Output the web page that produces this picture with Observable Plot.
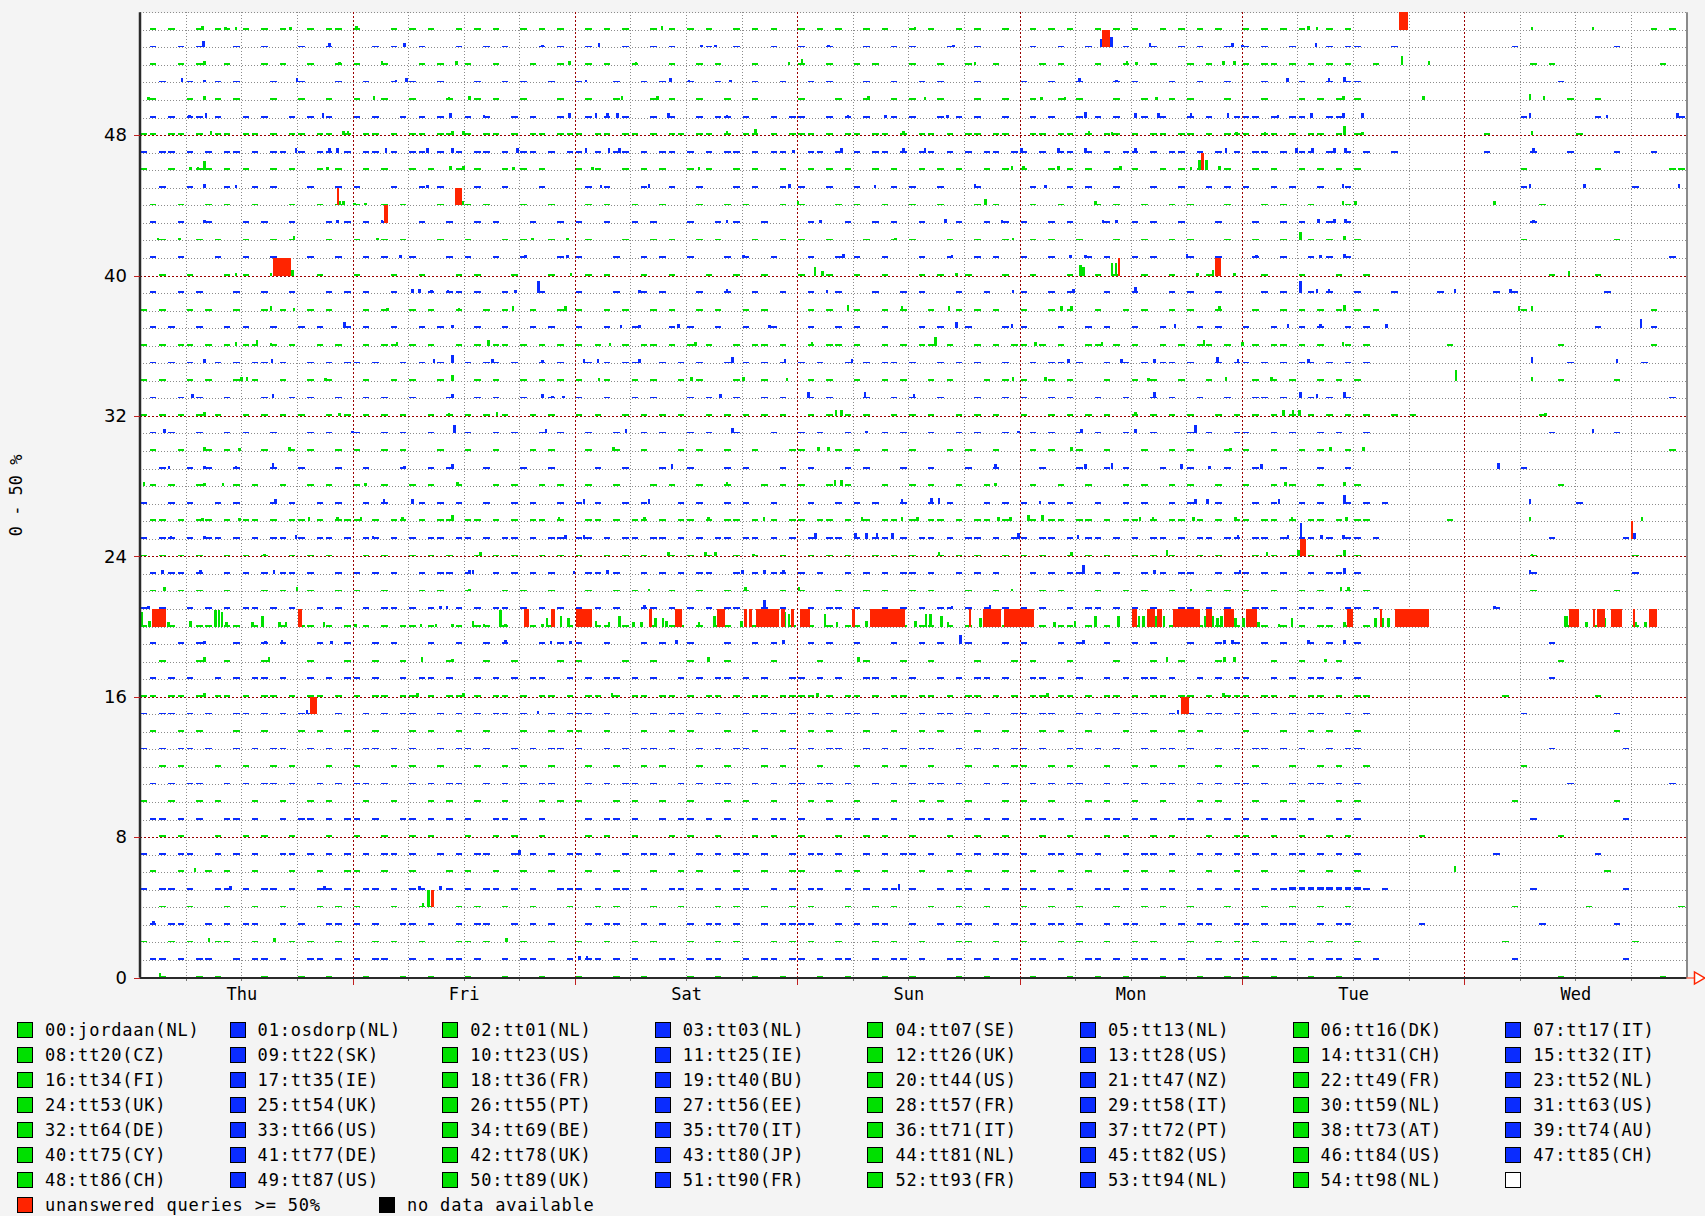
<!DOCTYPE html>
<html><head><meta charset="utf-8">
<script src="https://cdn.jsdelivr.net/npm/d3@7"></script>
<script src="https://cdn.jsdelivr.net/npm/@observablehq/plot@0.6"></script>
<style>
html,body{margin:0;padding:0;background:#f4f4f4;}
#wrap{position:relative;width:1705px;height:1216px;overflow:hidden;}
#chart{position:absolute;left:0;top:0;}
#legend{position:absolute;left:0;top:0;width:1705px;height:1216px;pointer-events:none;font-family:"DejaVu Sans Mono",monospace;font-size:17px;letter-spacing:0.8px;color:#000;}
.sw{position:absolute;width:14px;height:14px;border:1px solid #000;box-sizing:content-box;}
.lb{position:absolute;white-space:nowrap;line-height:18px;}
</style></head><body>
<div id="wrap"><div id="chart"></div><div id="legend"></div></div>
<script>
// ---- categories (lanes, bottom to top) ----
const names = ["jordaan(NL)","osdorp(NL)","tt01(NL)","tt03(NL)","tt07(SE)","tt13(NL)","tt16(DK)","tt17(IT)","tt20(CZ)","tt22(SK)","tt23(US)","tt25(IE)","tt26(UK)","tt28(US)","tt31(CH)","tt32(IT)","tt34(FI)","tt35(IE)","tt36(FR)","tt40(BU)","tt44(US)","tt47(NZ)","tt49(FR)","tt52(NL)","tt53(UK)","tt54(UK)","tt55(PT)","tt56(EE)","tt57(FR)","tt58(IT)","tt59(NL)","tt63(US)","tt64(DE)","tt66(US)","tt69(BE)","tt70(IT)","tt71(IT)","tt72(PT)","tt73(AT)","tt74(AU)","tt75(CY)","tt77(DE)","tt78(UK)","tt80(JP)","tt81(NL)","tt82(US)","tt84(US)","tt85(CH)","tt86(CH)","tt87(US)","tt89(UK)","tt90(FR)","tt93(FR)","tt94(NL)","tt98(NL)"];
const dayNames = ["Thu","Fri","Sat","Sun","Mon","Tue","Wed"];
const yTicks = [0,8,16,24,32,40,48];

// ---- low-level unanswered fraction per hour, per lane (hours 1..167; Thu(23) Fri..Wed(24 each))
// '.' = 0, '1' = ~5 %, '2' = ~8 %
const dashes = [
"..1...1.1....1...1..1.. .1...1..1...1...1...1.. 1...1..1....1..1...1..1 ..1..1...1..1....1..1.. .1...1..1..1...1...1..1 1..1...1..1............ ..........1..........1..",
".11.1.11..1.11.1..11.1. 1.11..1.1.11.1..1.11.1.1 .11.1.1..11.1.11..1.11.1 1.1.11..1.11.1..11.1.1.1 .11.1..11.1.11.1.1..11.1 1.11.1.1.11.1.1........ .....1...........1......",
"1..1.1..11..1...1.1..1. ..1.1..1...11.1...1..1.. 1..1..1.1...1..1.1...1.1 .1..1...1.1..1...11..1.. 1...1.1..1..1.1...1..1.1 .1..1..1.1..1.......... ....1.............1.....",
".1.11..1.1.11..1.1..11. 1.1..11.1..1.11..1.1.1.. .1.11..1.1..1.11.1..1.11 11..1.1.11..1..1.11..1.1 .1.11.1..1.11..1.1.11..1 1.1.11..1.11.......1.... ........1.......1.......",
"..1..1...1..1..1...1.1. 1...1..11..1.1..1..1...1 ..1.1...1..1...1.1..1..1 .1...1..1.1...1..1..1... 1..1..1...1..1.1..1...1. ..1..1..1..1........... .....1.......1.........1",
"1.11.1..11.1.11.1..11.1 .11.1.11..1.1.11.1.1..11 1.1.11.1..11.1.1.11..1.1 .11..1.1.11.1..1.11.1.1. 11.1.1..11.1.1.11..1.1.1 .1.11222222221.1....... .......1.........1......",
".1..1..1.1..1...1..1..1 1..1..1...1.1..1..1..1.. .1..1...1..1.1...1..1..1 1...1.1..1...1..1.1...1. .1..1..1...1.1..1...1..1 ..1...1..1..1.......... ...............1........",
"1.1.11..1.1.1..11.1.1.1 .1.11.1..1.1.11..1.1.1.1 1.1..1.11.1..1.1.11.1..1 .11.1..1.1.11.1..1.1.11. 1..11.1.1..1.11.1..1.1.1 .1.1.11.1.1.1.......... ...1..........1.........",
"..1.1...1..1.1..1...1.. 1..1..1.1...1..1.1..1... .1.1..1...1.1..1...1.1.. 1...1..1.1..1...1..1..1. ..1..1...1.1..1.1...1..1 1..1..1..1.1.......1.... ..........1.............",
".11.1.1..11.1..1.11.1.1 1.1..11.1.1.1..11.1.1.. .1.11.1..1.11.1.1..1.11 1..1.11.1.1..11.1.1.1.1 .11.1..1.11.1.1..11.1.1 1.1.11.1..1.1.......... .......1.........1......",
"1..1..1.1...1..1..1.1.. .1..1...1.1..1..1...1.1 1...1.1..1..1...1.1..1.. .1.1..1...1..1.1..1...1 1..1...1.1..1..1...1.1.. .1..1.1...1.1.......... .....1..........1.......",
".1.1.11..1.1.11.1..1.1. 11.1..1.1.11..1.1.1.11. .1.1.11.1..1.1.11..1.1.1 1.11.1..1.1.1.11.1..1.1. .1.1.11..1.1.1.11..1.1.1 1.1..1.11.1.1.......... ...........1..........1.",
"..1.1...1..1..1.1...1.. 1...1.1..1...1..1.1..1.. .1..1..1.1...1..1...1.1. ..1...1..1.1..1...1..1.1 1..1.1...1..1.1..1...1.. .1...1..1.1..1......... ......1.................",
"1.1.11.1..1.1.11..1.1.1 .11.1.1..1.11.1..1.1.11. 1..1.1.11.1..1.1.11.1..1 .1.11..1.1.1.11..1.1.1.1 1.1..11.1.1..1.11.1..1.1 .11.1.1..1.11.......... .........1.......1......",
".1..1.1...1..1...1.1..1 ..1...1.1..1..1...1..1.1 1..1...1..1.1...1..1..1. .1.1...1..1..1.1...1..1 ..1.1..1...1..1..1.1... 1...1..1.1..1.......... ................1.......",
"1.11.1.1..11.1.1.11..1. .1.1.11..1.1.1.11.1..1.1 11.1..1.1.11.1.1..1.11.1 .1.1.11.1..1.1.11.1.1..1 1.11..1.1.1.11..1.1.11.1 .1.1.1.11..1.1......... ......1.........1.......",
"11.11.1.11.1.11.1.11.1. 1.11.11.1.11.1.11.1.11.1 .11.1.11.11.1.11.1.11.11 11.1.11.1.11.11.1.11.1.1 .11.11.1.11.1.11.11.1.11 1.11.1.11.1.11......... ....1.........1.........",
".1.1.1..1.1.11.1..1.1.1 1.1..1.11.1..1.1.1.11..1 .1.11.1.1..1.1.11.1.1..1 1.1.1..11.1.1..1.1.11.1. .11.1.1..1.1.11.1..1.1.1 1..1.1.11.1.1.......... .........1..............",
"..1...1..1...1....1...1 ..1..1....1...1..1....1. 1....1..1...1...1....1.. ..1....1...1..1....1...1 .1...1....1...1..1...1.. ...1..1...1............ ..........1.............",
".1..1.1...1..1.1...1..1 ..1.1...1..1..1.1...1.1. 1..1...1.1..1...1..1.1.. .1.1..1...1..1.1..1...1. 1...1.1..1..1.1...1..1.1 ..1.1..1.1..1.......... .........1..............",
"1.11..11.11.1..1.11.1.1 .1.1.11.1..1.11.1..1.1.1 1.11.1..1.11.1.11..1.1.1 .1.1.11..1.1.11.1.1..11. 1.1.11.1.1..1.1.11.1.1.1 .11.1.1.11.1.1....1..... ...........1..1.1.1.....",
"1.1..1.1.1.11.1.1..1.1. .1.11.1.1..1.1.11.1.1.1. 1.1.1..11.1.1.1.11..1.1. .1.11.1..1.1.1.11.1.1.1. 1.1..1.11.1.1.1..11.1.1. .11.1.11.1.11.1........ ...1....................",
".1..1.1..1...1.1..1..1. 1..1...1.1..1...1.1..1.. .1..1.1...1..1..1.1...1. 1...1..1.1..1.1...1..1.. ..1.1...1..1.1..1...1.1. 1..1..1.1..1.1......... .......1........1.......",
".1.11.1..1.1.1.11.1..1. 1.1.1..1.11.1..1.1.1.1.. .11.1..1.1.1.11..1.1.11. 1.1..1.1.1.11.1..1.1.1.. .1.1.11.1.1..1.1.11..1.1 1.1.1..1.11.1.......... .......1..........1.....",
"1.1.1.1..1.1.1..1.1.1.. .1.1..1.1.1..1.1.1..1.1 1..1.1.1..1.1.1..1.1..1. .1.1.1..1.1.1..1.1.1..1 1.1..1.1.1..1.1.1..1.1.. .1.1.1.1..1.1.......... .......1..........1.....",
"1.11.1.11.1.1.11.1.11.1 .11.1.1.11.11.1.11.1.11. 11.1.11.11.1.1.11.11.1.1 .1.11.1.11.1.11.1.11.1.1 1.11.1.11.1.1.11.1.11.11 .11.1.11.1.11.1........ .........1.......1......",
".11.1.11.1.11.1.11.1.11 1.1.11.1.11.11.1.1.11.1. .11.1.11.1.11.1.11.1.1.1 1.11.1.1.11.1.11.1.11.1. .1.11.11.1.11.1.11.1.1.1 1.11.1.11.1.11........1. ........................",
"1..1.1..1.1...1.1..1.1. .1.1...1.1.1..1..1.1..1 1.1..1.1...1.1..1.1..1.. .1..1.1.1..1..1.1...1.1 1..1.1..1..1.1..1.1..1.. .1.1..1.1..1.1.1....... ............1...........",
".1.1..1...1.1..1..1.1.. 1..1..1.1..1...1.1..1.1 .1..1...1.1..1..1...1.1 1..1.1...1..1.1..1..1.. .1..1..1...1.1..1.1..1. 1..1.1..1...1.......... ..........1.............",
"..1..1.1..1...1..1...1. .1...1..1.1...1...1..1. ..1..1...1..1...1.1...1 .1...1.1...1..1...1..1. ..1...1..1.1...1..1...1 .1..1...1..1........... ......1.................",
".1..1..1.1...1..1.1..1. 1..1.1...1..1..1...1.1. .1..1..1...1.1..1..1...1 1...1.1..1..1...1.1..1.. .1.1..1..1...1..1.1...1. 1..1..1.1..1........... ......................1.",
".1.1..1..1.1..1...1.1.. 1..1.1..1...1..1.1..1.1 .1..1..1.1..1.1..1...1.. 1.1..1...1.1..1..1.1..1. .1.1..1.1..1..1...1.1..1 1..1.1..1.1..1......... .........1......1.......",
"1.1.1.1.1..1.1.1.1..1.1 .1.1.1..1.1.1.1.1..1.1. 1.1..1.1.1.1..1.1.1.1.1. .1.1.1.1..1.1.1..1.1.1. 1..1.1.1.1..1.1.1.1..1.1 .1.1.1.1.1.1.1..1.1..... ........1...............",
".1..1.1..1...1..1.1..1. .1.1..1...1..1.1..1..1. 1..1..1.1...1.1..1..1.1 .1.1...1..1.1..1...1..1 1..1.1..1..1..1.1..1..1 .11.1..1.1.1........... ......................1.",
"1.1..1.1..1.1..1..1.1.. .1..1.1..1...1.1..1.1.1 1..1..1.1..1.1...1..1.. .1.1..1..1.1..1.1...1.1 1..1.1...1..1.1..1..1.. .1.1.1..1.1.1.......... ..........1.....1.......",
".1.1.1..1.1.11.1..1.1.1 1.1..1.1.1..1.11.1..1.1. .1.1.11..1.1.1..1.1.1.1 1.1..1.1.11.1..1.1.1..1. .1.11.1..1.1.1.11.1..1.1 1.1.1.11.1.1.1......... ...........1.......1....",
"1.1.11.1.1.11.1.1..1.1. .1.11.1.1..1.1.11.1.1.1 1.1..1.11.1.1.1..1.11.1 .1.11.1..1.1.11.1..1.1.1 1.1.1..11.1.1..1.1.11.1. .1.11.1.1..1.1........1 ..........1.........1...",
".1.1..1..1.1..1..1.1..1 .1..1..1.1...1..1..1.1. 1..1..1...1.1..1..1..1.. .1..1.1..1...1.1..1...1 1...1..1.1..1..1...1.1.. 1..1..1.1..1.1......... ..............1.....1...",
"1.1..1.1..1..1.1..1.1.. .1.1..1.1..1..1.1..1..1 1..1.1..1.1..1.1..1.1.. .1.1..1..1.1..1..1.1.1. 1..1.1..1..1.1..1.1..1. .1..1.1.1.1.1.1........ ......1.............1...",
".1..1.1...1..1..1...1.1 .1..1...1.11.1..1...1.. 1...1..1.1...1..1..1..1 .1..1...1..1.1...1..1.. 1..1.1...1..1...1.1..1. ..1.1..1.1..1...1....1. ...1.1.........1.......",
"..1..1...1.1.......1... 1...1..1...1.1...1...1. .1.1...1..1...1..1..1.. 1..1..1..1...1.1..1...1 .1...1..1.1..1..1...1.. ..1...1...1..1......... .........1....1.........",
".1..1...1..1..1...1..1. .1.1..1...1.1..1..1...1 1...1..1.1..1...1.1..1. .1..1.1..1...1..1..1.1. 1..1...1.1..1.1...1..1. .1..1..1.1.1........... ......................1.",
"..1...1.1..1..1.1...1.. 1..1.1...1..1...1.1..1. .1...1..1.1..1.1...1..1 1..1...1..1.1...1..1..1 .1.1..1...1..1..1.1...1 .1..1..1.1..1.......... ......1.........1.......",
".1..1..1...1.1..1...1.1 .1.1...1..1..1.1...1..1 1..1..1.1...1..1.1..1.. .1...1..1.1..1...1..1.1 1..1.1...1..1.1..1...1. .1..1.1..1.1........... .......1................",
".1..1..1.1..1...1..1.1. 1..1.1...1..1.1...1..1. .1.1..1..1...1..1.1...1 1...1.1..1..1..1...1.1. .1..1...1.1..1..1.1...1 ..1.1..1...1........... ........1...............",
"..1..1...1..1.1...1..1. 1...1..1.1...1..1...1.. .1.1...1..1..1...1.1..1 1..1..1...1.1..1...1... .1...1.1..1...1..1..1.1 1..1.1..1..1........... ......1...........1.....",
"1..1..11.1.1..1.1..1.1. .1.1..1.1..1.1..1.1.1.. 1.1..1.1.1..1.1..1.1..1 .1.1.1..1.1..1.1.1..1.1 1..1.1.1..1.1..1.1.1..1 .1.1..1.1.1.1.......... ......1.......1.......11",
"1.11.1.1.11.1.11.1.11.1 .11.1.11.1.1.11.1.11.1.1 1.1.11.1.11.1.1.11.1.11. .11.1.1.11.1.11.1.1.11.1 1.1.11.1.1.11.1.11.1.1.1 .11.1.11.1.1.1..1...... ..1....1...1....1...1...",
"11.11.1.11.11.1.11.11.1 .11.1.11.11.1.11.1.11.11 1.11.11.1.11.11.1.11.1.1 11.1.11.11.1.11.1.11.11. .11.11.1.11.1.11.11.1.11 1.11.1.11.1.1........... ..1.........1...........",
".1.1.11.1..1.1..1.1.1.. 1.1..1.1.1..1.1..1.1..1. .1.1.1..1.1..1.11.1..1.1 1..1.1.1..1.1..1.1.1..1. .1.1..1.1.1..1.1..1.1..1 11.1.11..11............ ......1.......1........1",
".1...1..1.1...1..1..1.. 1..1..1...1..1.1..1...1 .1..1...1.1..1..1..1... 1...1..1..1.1..1...1..1 .1..1.1...1..1..1.1...1 ..1...1.1.1.1.......... ...........1..1.........",
"..1..1..1.1...1..1...1. .1..1.1..1...1..1.1..1. 1...1..1.1..1..1...1..1 .1.1...1..1..1.1...1... 1..1..1...1.1...1..1..1 ..1...1..1.11.......... ..........1.............",
".1..1.1..1...1.1..1..1. 1..1...1.1..1..1...1..1 .1.1..1...1..1.1...1... 1..1..1.1...1..1..1..1. ..1.1...1..1..1...1.1.. 1.11.1.1.1.1..1........ .......1.1...........1..",
".1..1.1...1..1...1..1.. ..1.1..1...1..1.1...1.1 .1...1..1.1...1..1...1. 1..1...1..1.1...1..1... .1..1..1...1..1..1.1..1 1.1..1...1.11...1...... .....1..........1.......",
".1.1..1.11.1.1.1..1.11. 1...1.1.1..1.1.1..1.1.1 .1.1.1..1.1.1.1..1.1.1. 1.1.1..1.1..1.1..1.1..1 .1.1.1..1.1.1..1.1.1.1. 1.1.1.1..1.1........... ....................1.1."
];

// ---- taller readings: [lane, hour, % unanswered (lane = 0..50 %)]
const spikes = [
[54,7.8,12],[54,10.3,8],[54,11.4,8],[54,17.3,8],[54,24.4,12],[54,57.4,12],[54,84.7,8],[54,127.2,12],[54,128.1,8],[54,151.3,8],[54,157.9,8],
[53,7.9,17],[53,21.5,12],[53,29.6,12],[53,44.5,8],[53,50.6,12],[53,61.7,8],[53,63.2,8],[53,75.4,8],[53,88.9,8],[53,104.8,25],[53,105.9,30],[53,110.1,12],[53,119,12],[53,120.1,8],[53,128,12],
[52,8,12],[52,22.6,8],[52,27.2,12],[52,35.2,12],[52,47.4,12],[52,54.6,8],[52,71.1,8],[52,72.5,17],[52,91.2,8],[52,107.6,12],[52,108.6,8],[52,118,12],[52,119.2,12],[52,137.3,25],[52,140.2,12],
[51,5.6,12],[51,8,8],[51,18,12],[51,28.7,8],[51,29.8,12],[51,49.2,8],[51,58.3,12],[51,60.3,8],[51,64.8,8],[51,102.5,12],[51,106.5,8],[51,124.9,12],[51,129.4,12],[51,131.1,17],
[50,2,8],[50,8,12],[50,26.3,12],[50,34.4,8],[50,36.6,12],[50,53.1,12],[50,56.9,12],[50,79.7,12],[50,85.8,8],[50,98.4,8],[50,100.9,8],[50,110.8,8],[50,131,12],[50,139.6,12],[50,151.1,17],[50,152.6,12],
[49,6.4,8],[49,8.2,12],[49,20.8,12],[49,34.6,12],[49,38.2,8],[49,47.4,12],[49,50.3,12],[49,51.5,12],[49,52.6,12],[49,58.1,12],[49,64.4,8],[49,77.5,8],[49,81.5,8],[49,88.2,8],[49,103.1,17],[49,108.5,12],[49,111,12],[49,114.5,12],[49,118.5,12],[49,123.9,8],[49,127.5,12],[49,131,12],[49,133,12],[49,151.1,12],[49,159.4,8],[49,167,12],
[48,8.7,12],[48,23,12],[48,23.5,12],[48,34.8,12],[48,36,12],[48,64.4,12],[48,67.5,17],[48,83.5,12],[48,103.5,12],[48,106,8],[48,119.4,8],[48,122.5,8],[48,131.1,25],[48,133,8],[48,151.3,12],
[47,17.9,12],[47,21.5,12],[47,22.4,12],[47,27.6,12],[47,32.1,12],[47,34.8,12],[47,41.8,12],[47,49.2,12],[47,51.7,12],[47,52.8,12],[47,71.6,8],[47,76.8,12],[47,83.5,12],[47,85.8,12],[47,96.2,12],[47,100.2,12],[47,103.1,12],[47,108.5,12],[47,118.3,12],[47,125.9,12],[47,127.6,12],[47,130,12],[47,131.2,12],[47,151.5,12],
[46,6.5,8],[46,7.3,8],[46,8,25],[46,21.3,8],[46,34.6,12],[46,36,12],[46,41.4,8],[46,49.9,8],[46,61.4,8],[46,95.2,12],[46,96.4,12],[46,100.2,12],[46,106.9,12],[46,114.5,8],[46,115.4,30],[46,116.2,30],[46,117.6,12],
[45,8,12],[45,11.4,8],[45,32.1,8],[45,50.8,8],[45,56,12],[45,71.2,12],[45,80.4,8],[45,91.2,12],[45,98.8,8],[45,130.9,12],[45,151.1,12],[45,157,12],[45,167.2,12],
[44,22.6,12],[44,23,12],[44,24.2,8],[44,25.4,8],[44,35.9,12],[44,72.1,12],[44,92.3,17],[44,104.2,12],[44,130.9,12],[44,132.3,12],[44,147.3,12],
[43,8,8],[43,22.4,8],[43,27.2,8],[43,64.4,8],[43,74.5,8],[43,88,12],[43,94.1,8],[43,105,8],[43,106.5,8],[43,128.3,12],[43,130,12],[43,131.2,12],[43,151.5,8],
[42,3,8],[42,5.3,8],[42,17.7,12],[42,26.7,8],[42,43.4,8],[42,47.2,8],[42,82.6,8],[42,95.3,8],[42,126.3,25],[42,131.1,12],
[41,29.2,8],[41,42.7,8],[41,47.2,8],[41,66.2,8],[41,77,12],[41,88.7,8],[41,101.5,8],[41,103.1,8],[41,114.1,12],[41,121.6,8],[41,128.5,8],[41,131.1,12],
[40,15.2,8],[40,17.5,17],[40,11.4,8],[40,47.6,8],[40,73.9,25],[40,74.7,12],[40,89.2,8],[40,102.6,30],[40,102.9,25],[40,106,35],[40,106.4,35],[40,115.2,8],[40,116.9,17],[40,119.2,8],[40,155.3,12],
[39,30.5,12],[39,31.2,12],[39,32.5,8],[39,34.3,8],[39,41.6,8],[39,44.1,35],[39,55,8],[39,64.4,12],[39,75.2,8],[39,95.3,8],[39,101.8,12],[39,108.5,17],[39,126.3,35],[39,128.1,12],[39,129.4,12],[39,143,12],[39,149,12],
[38,15.2,12],[38,17.7,8],[38,27.8,8],[38,35.5,8],[38,41.3,12],[38,47,12],[38,77.5,17],[38,83.3,12],[38,88.4,12],[38,100.5,12],[38,101.6,12],[38,117.6,12],[38,131.1,17],[38,149.9,12],[38,151.3,12],
[37,23.1,17],[37,34.8,8],[37,53,8],[37,55,8],[37,59.2,12],[37,69,8],[37,89.2,17],[37,95.2,12],[37,112.8,12],[37,125,12],[37,128.5,12],[37,135.6,12],[37,163.1,25],
[36,11.4,12],[36,13.7,17],[36,15.2,8],[36,28.8,12],[36,38.7,17],[36,51.8,8],[36,61,12],[36,73.6,12],[36,86.9,25],[36,97.7,12],[36,104.9,12],[36,115.9,17],[36,120.1,12],[36,130.9,12],
[35,8,12],[35,15.3,12],[35,32.8,12],[35,34.8,25],[35,39.1,12],[35,44.5,8],[35,49,12],[35,50.5,12],[35,55,12],[35,65,17],[35,70.7,12],[35,77.9,12],[35,101.3,12],[35,107,12],[35,110.6,12],[35,117.4,17],[35,119.6,12],[35,127.2,12],[35,151.3,17],[35,160.5,12],
[34,12,12],[34,12.6,12],[34,21.1,8],[34,34.8,17],[34,50.6,8],[34,60.6,12],[34,66.2,12],[34,70.9,8],[34,95.3,12],[34,98.8,12],[34,109.9,8],[34,118.3,12],[34,123.2,12],[34,143.1,30],[34,151.3,12],
[33,6.7,12],[33,15.4,12],[33,34.8,12],[33,44.5,12],[33,45.6,8],[33,46.8,8],[33,63.7,12],[33,73.2,17],[33,79.3,17],[33,84.6,12],[33,110.6,17],[33,126.3,17],[33,128.1,12],[33,131.1,17],
[32,8,12],[32,22.6,8],[32,34.4,8],[32,39.6,12],[32,76.2,17],[32,76.8,17],[32,108.5,12],[32,124.5,17],[32,125.5,17],[32,126.2,17],[32,152.8,8],
[31,3.7,12],[31,24,8],[31,35,25],[31,44.9,12],[31,53.5,12],[31,65,17],[31,79.5,8],[31,95.9,8],[31,102.7,12],[31,108.5,12],[31,115,25],[31,157.9,12],
[30,8,12],[30,11.8,8],[30,17.2,12],[30,52.2,12],[30,74.3,12],[30,75.4,12],[30,101.6,12],[30,118.8,8],[30,129.6,12],[30,133.1,12],
[29,4.2,8],[29,8,8],[29,11.4,8],[29,15.4,17],[29,29.6,8],[29,34.8,12],[29,58.5,12],[29,93.4,12],[29,103.1,12],[29,106,17],[29,113.5,12],[29,116.5,8],[29,122.1,12],[29,147.7,17],
[28,1.5,12],[28,8,8],[28,10,8],[28,25.4,8],[28,35.3,12],[28,64.4,12],[28,76.1,17],[28,76.8,17],[28,93.4,8],[28,124.7,12],[28,131.1,12],
[27,15.7,12],[27,27.4,12],[27,30.5,12],[27,49,12],[27,56,12],[27,83.3,12],[27,86.5,17],[27,87.3,17],[27,98.2,8],[27,115,12],[27,116.3,12],[27,124,12],[27,131.1,25],[27,151.1,12],
[26,7.8,8],[26,11.8,8],[26,19.3,12],[26,22.4,12],[26,24.9,12],[26,29.4,12],[26,34.8,17],[26,46.3,12],[26,55.5,12],[26,62.4,12],[26,68.4,12],[26,79,12],[26,83.3,12],[26,85,12],[26,93.7,12],[26,95,12],[26,97,17],[26,98.5,17],[26,109,12],[26,110.4,12],[26,114.8,12],[26,119.3,12],[26,125.4,12],[26,131.3,12],[26,151.1,12],[26,163.2,12],
[25,4.4,8],[25,8,8],[25,17.9,12],[25,26.2,8],[25,47,12],[25,49,12],[25,74,17],[25,78.3,17],[25,79.5,17],[25,80.6,17],[25,82.3,17],[25,95.9,17],[25,102.3,12],[25,119.6,12],[25,125,12],[25,126.4,45],[25,128.6,12],[25,131,12],[25,162.4,17],
[24,14.5,8],[24,37.8,12],[24,58.1,12],[24,62.1,12],[24,63.2,12],[24,67.3,8],[24,87.3,12],[24,101.6,12],[24,111.9,17],[24,122.7,12],[24,126.1,17],[24,131.1,17],[24,151.3,8],
[23,3.5,12],[23,7.6,12],[23,15.5,12],[23,36.6,12],[23,37,12],[23,47.9,8],[23,51.5,12],[23,66.1,12],[23,68.5,12],[23,70.5,12],[23,102.9,25],[23,110.6,12],[23,119.8,12],[23,131.1,17],[23,151.1,12],
[22,3.7,12],[22,18,12],[22,36.6,8],[22,56,8],[22,66.4,12],[22,72.2,12],[22,95.2,8],[22,114.5,8],[22,130.7,12],[22,131.5,12],
[21,2,8],[21,33.5,8],[21,34.2,8],[21,55.5,12],[21,68.5,25],[21,88.7,8],[21,92.8,12],[21,147.3,8],
[20,1.2,42],[20,2.1,17],[20,4.1,12],[20,6.5,17],[20,9.2,48],[20,9.6,48],[20,9.9,42],[20,10.4,12],[20,13.2,12],[20,14.3,30],[20,16.1,12],[20,16.8,12],[20,20.9,12],[20,24.3,8],[20,31.4,8],[20,33,8],[20,34.8,8],[20,37,17],[20,38.2,8],[20,40,48],[20,40.5,8],[20,44.5,8],[20,45,25],[20,46.5,30],[20,47.3,25],[20,50.3,17],[20,51.7,12],[20,52.8,30],[20,54.3,12],[20,55.2,12],[20,56.7,25],
[20,57.5,25],[20,57.9,17],[20,61.4,12],[20,63.1,30],[20,66,17],[20,66.4,17],[20,70.6,42],[20,71.1,35],[20,75,35],[20,76.3,12],[20,79.5,17],[20,84.8,17],[20,85.9,35],[20,86.4,35],[20,87.6,30],[20,88.3,12],[20,91.8,25],[20,99.8,12],[20,102,17],[20,104.2,30],[20,106.7,30],[20,108.9,30],[20,109.4,30],[20,110.7,30],[20,111.6,30],
[20,116.1,30],[20,116.9,30],[20,117.4,25],[20,117.8,30],[20,119.3,25],[20,120.2,25],[20,121.8,12],[20,124,8],[20,125.4,25],[20,131.1,12],[20,134.4,25],[20,135.2,25],[20,135.8,25],[20,154.9,30],[20,155.1,30],[20,157.2,12],[20,159.2,25],[20,162.5,12],[20,163.6,12],
[19,8,8],[19,14.6,8],[19,16.4,12],[19,21.7,8],[19,40.5,12],[19,45.4,8],[19,47.5,8],[19,59,12],[19,70.5,12],[19,89.6,25],[19,102.9,12],[19,118.1,12],[19,119,12],[19,127.2,12],[19,131.1,12],
[18,8,12],[18,15,12],[18,31.5,12],[18,34.8,8],[18,62.4,12],[18,78.6,12],[18,111.9,12],[18,118.1,12],[18,119.2,12],[18,129,8],
[16,8,12],[16,31,12],[16,36,12],[16,52,12],[16,74.2,12],[16,99,12],[16,118,12],
[15,19.1,12],[15,44,8],[15,113.1,12],
[7,42,12],[6,7,12],[6,143,17],
[5,10.8,12],[5,21,12],[5,31.2,12],[5,33.5,12],[5,83,17],
[4,31.6,12],[4,32.2,48],
[3,2.5,12],[2,8.5,12],[2,15.6,12],[2,40.6,12],
[1,48.5,12],[1,49.3,12],[0,3.2,12]
];

// ---- unanswered queries >= 50 %: [lane, from hour, to hour]
const unanswered = [
[54,137.0,137.9],[53,104.95,105.75],[46,115.55,115.95],[44,22.3,22.5],[44,35.1,35.8],[43,27.35,27.85],
[40,15.4,17.4],[40,106.6,106.8],[40,117.1,117.8],[25,162.0,162.2],[24,126.3,126.9],
[20,2.4,3.9],[20,18.1,18.5],[20,42.5,43.1],[20,45.4,45.8],[20,48.1,49.9],[20,56.0,56.3],
[20,58.8,59.6],[20,63.3,64.2],[20,66.3,66.6],[20,66.8,67.1],[20,67.5,70.0],[20,70.2,70.7],[20,71.3,71.6],[20,72.3,73.4],[20,77.9,78.2],[20,79.9,83.6],[20,90.5,90.8],[20,92.1,94.0],[20,94.3,97.6],[20,108.1,108.7],[20,109.8,110.6],[20,110.8,111.4],
[20,112.6,115.5],[20,116.1,116.8],[20,118.1,119.1],[20,120.5,121.6],[20,131.4,132.0],[20,134.9,135.1],[20,136.5,140.2],[20,155.3,156.4],[20,157.9,158.1],[20,158.3,159.2],[20,159.9,161.0],[20,162.2,162.4],[20,163.9,164.8],
[15,19.4,20.2],[15,113.4,114.3],[4,32.45,32.75]
];

// ---- build tables ----
const GREEN = "#00e000", BLUE = "#0a2cff", RED = "#ff2400";
const lvl = {"1":5,"2":8};
const bars = [];
dashes.forEach((s, lane) => {
  const segs = s.split(" ");
  const t = segs.map((g, i) => (g + ".".repeat(24)).slice(0, i === 0 ? 23 : 24)).join("");
  for (let k = 0; k < t.length; k++) {
    const v = lvl[t[k]];
    if (v) bars.push({lane, x1: 1 + k + 0.12, x2: 1 + k + 0.82, v});
  }
});
spikes.forEach(([lane, h, v]) => bars.push({lane, x1: h - 0.14, x2: h + 0.14, v}));
const redRows = unanswered.map(([lane, a, b]) => ({lane, a, b}));

const laneLines = d3.range(1, 56).filter(v => v % 8 !== 0);
const redLanes = yTicks.filter(v => v > 0);
const hourGrid = d3.range(6, 168, 6).filter(h => h % 24 !== 0);
const dayLines = d3.range(24, 168, 24);
const noon = dayNames.map((d, i) => ({d, h: 12 + 24 * i}));

const W = 1705, H = 1012;
const crisp = {shapeRendering: "crispEdges"};
const chart = Plot.plot({
  width: W, height: H,
  marginLeft: 139.5, marginRight: 18.5, marginTop: 12.3, marginBottom: H - 977.5,
  x: {domain: [1, 168], axis: null},
  y: {domain: [0, 55], axis: null},
  style: {background: "transparent", overflow: "visible"},
  marks: [
    Plot.frame({fill: "white", stroke: null}),
    Plot.ruleY(laneLines, {stroke: "#8c8c8c", strokeDasharray: "1,2", ...crisp}),
    Plot.ruleX(hourGrid, {stroke: "#8c8c8c", strokeDasharray: "1,2", ...crisp}),
    Plot.ruleY(redLanes, {stroke: "#9a0000", strokeDasharray: "2,2", ...crisp}),
    Plot.ruleX(dayLines, {stroke: "#9a0000", strokeDasharray: "2,2", ...crisp}),
    Plot.ruleX(hourGrid, {y1: 0, y2: 0, insetBottom: -3, stroke: "#777", ...crisp}),
    Plot.ruleX(dayLines, {y1: 0, y2: 0, insetBottom: -7, stroke: "#c02020", ...crisp}),
    Plot.rect(bars.filter(d => d.lane % 2 === 0), {x1: "x1", x2: "x2", y1: "lane", y2: d => d.lane + d.v / 50, fill: GREEN, ...crisp}),
    Plot.rect(bars.filter(d => d.lane % 2 === 1), {x1: "x1", x2: "x2", y1: "lane", y2: d => d.lane + d.v / 50, fill: BLUE, ...crisp}),
    Plot.rect(redRows, {x1: "a", x2: "b", y1: "lane", y2: d => d.lane + 1, fill: RED, ...crisp}),
    Plot.ruleX([168], {stroke: "#8a8a8a", strokeWidth: 2}),
    Plot.ruleY([0], {stroke: "#2a2a2a", strokeWidth: 2}),
    Plot.ruleX([1], {stroke: "#2a2a2a", strokeWidth: 2.5}),
    Plot.ruleY([0], {x1: 168, x2: 168, insetRight: -8, stroke: RED}),
    Plot.ruleY(yTicks, {x1: 1, x2: 1, insetLeft: -6, stroke: "#c02020", ...crisp}),
    Plot.dot([0], {y: d => d, frameAnchor: "right", dx: 11, symbol: "triangle", rotate: 90, r: 4.5, stroke: RED, fill: "white", strokeWidth: 1.5}),
    Plot.text(yTicks, {y: d => d, text: d => String(d), frameAnchor: "left", textAnchor: "end", dx: -13, fontSize: 18, fontFamily: "DejaVu Sans", fill: "#000"}),
    Plot.text(noon, {x: "h", text: "d", frameAnchor: "bottom", dy: 17, lineAnchor: "middle", fontSize: 17, fontFamily: "DejaVu Sans Mono", fill: "#000"}),
    Plot.text(["0 - 50 %"], {frameAnchor: "left", textAnchor: "middle", dx: -123, rotate: -90, fontSize: 17, fontFamily: "DejaVu Sans Mono", fill: "#000"})
  ]
});
document.getElementById("chart").appendChild(chart);

// ---- legend (HTML, below the SVG area) ----
const legend = document.getElementById("legend");
function item(x, y, color, label) {
  const b = document.createElement("div");
  b.className = "sw"; b.style.left = x + "px"; b.style.top = y + "px"; b.style.background = color;
  legend.appendChild(b);
  if (label) {
    const t = document.createElement("div");
    t.className = "lb"; t.style.left = (x + 28) + "px"; t.style.top = (y - 1) + "px"; t.textContent = label;
    legend.appendChild(t);
  }
}
const colW = 212.6, rowH = 25, lx0 = 17, ly0 = 1022;
for (let i = 0; i < 56; i++) {
  const r = Math.floor(i / 8), c = i % 8;
  if (i < names.length) item(lx0 + c * colW, ly0 + r * rowH, i % 2 ? BLUE : GREEN, String(i).padStart(2, "0") + ":" + names[i]);
  else item(lx0 + c * colW, ly0 + r * rowH, "#fff", "");
}
item(lx0, ly0 + 7 * rowH, RED, "unanswered queries >= 50%");
item(379, ly0 + 7 * rowH, "#000", "no data available");
</script>
</body></html>
